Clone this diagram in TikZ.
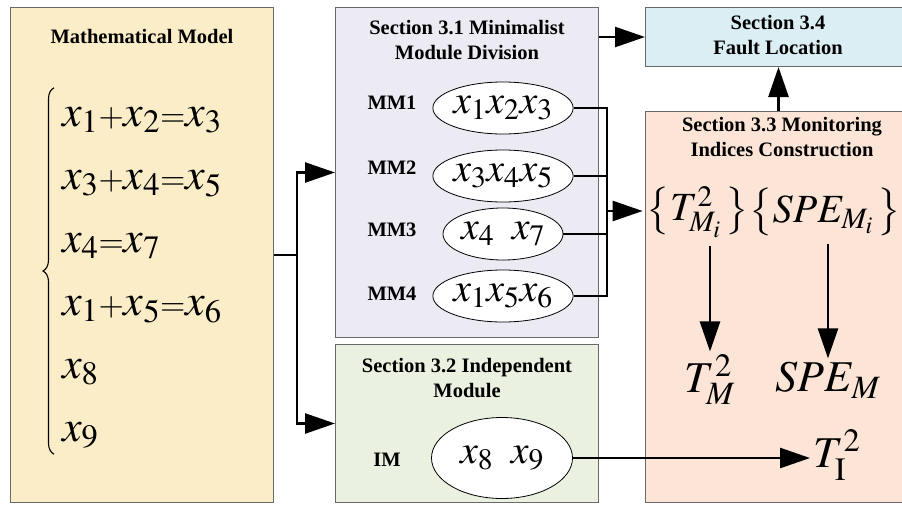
\documentclass[tikz,border=0pt]{standalone}
\usepackage{mathptmx}
\usepackage{fontspec}
\setmainfont{Liberation Serif}
\usetikzlibrary{arrows.meta}
\usetikzlibrary{shapes.geometric}
\usetikzlibrary{decorations.pathreplacing}

\definecolor{modelfill}{RGB}{252,237,201}
\definecolor{mmfill}{RGB}{236,234,243}
\definecolor{imfill}{RGB}{234,241,224}
\definecolor{faultfill}{RGB}{219,238,244}
\definecolor{monfill}{RGB}{252,229,214}
\definecolor{boxgray}{RGB}{105,105,105}

\newcommand{\pl}{{\scriptstyle+}}
\newcommand{\eq}{{\scriptstyle=}}

\begin{document}
\begin{tikzpicture}[x=1pt, y=-1pt,
    box/.style={draw=boxgray, line width=1pt, anchor=north west, inner sep=0pt},
    head/.style={font=\fontsize{20.5}{25}\selectfont\bfseries, align=center},
    tag/.style={font=\fontsize{20.5}{25}\selectfont\bfseries},
    oval/.style={ellipse, draw, fill=white, line width=0.8pt, minimum width=120,
      minimum height=52, inner sep=0pt, font=\fontsize{40}{40}\selectfont},
    big/.style={font=\fontsize{44}{63}\selectfont},
    set/.style={font=\fontsize{40}{40}\selectfont, inner sep=0pt},
    line/.style={line width=2.5pt},
    arr/.style={line width=2.5pt, -{Triangle[length=30pt, width=20pt]}}]
  \useasboundingbox (0,0) rectangle (902,506);

  % the model
  \node[box, fill=modelfill, minimum width=263, minimum height=495] (model) at (10,7) {};
  \node[head] (modelhead) at (142,36) {Mathematical Model};
  \node[big, anchor=west, inner sep=0pt] (eqs) at (62,271) {$\begin{array}{@{}l@{}}
      x_1\pl x_2\eq x_3\\
      x_3\pl x_4\eq x_5\\
      x_4\eq x_7\\
      x_1\pl x_5\eq x_6\\
      x_8\\
      x_9
    \end{array}$};
  \draw[line width=1.1pt, decorate, decoration={brace, amplitude=11pt}]
    ([xshift=-8pt, yshift=6pt]eqs.south west) -- ([xshift=-8pt, yshift=-6pt]eqs.north west);

  % section 3.1
  \node[box, fill=mmfill, minimum width=263, minimum height=330] (sec31) at (335,7) {};
  \node[head] (sec31head) at (467,40) {Section 3.1 Minimalist\\Module Division};
  \node[tag] (lab1) at (392,103) {MM1};
  \node[tag] (lab2) at (392,168) {MM2};
  \node[tag] (lab3) at (392,230) {MM3};
  \node[tag] (lab4) at (392,294) {MM4};
  \node[oval] (mm1) at (503,108) {$x_1x_2x_3$};
  \node[oval] (mm2) at (503,176) {$x_3x_4x_5$};
  \node[oval] (mm3) at (503,234) {$x_4\;\;x_7$};
  \node[oval] (mm4) at (503,296) {$x_1x_5x_6$};

  % section 3.2
  \node[box, fill=imfill, minimum width=263, minimum height=158] (sec32) at (335,344) {};
  \node[head] (sec32head) at (467,378) {Section 3.2 Independent\\Module};
  \node[tag] (imlab) at (387,460) {IM};
  \node[oval, minimum width=141, minimum height=81] (im) at (502,458) {$x_8\;\;x_9$};

  % section 3.4
  \node[box, fill=faultfill, minimum width=266, minimum height=59] (sec34) at (645,7) {};
  \node[head] (sec34head) at (778,35) {Section 3.4\\Fault Location};

  % section 3.3
  \node[box, fill=monfill, minimum width=266, minimum height=391] (sec33) at (645,111) {};
  \node[head] (sec33head) at (782,137) {Section 3.3 Monitoring\\Indices Construction};
  \node[set, anchor=east] (setT) at (749,212) {$\bigl\{T^2_{M_i}\,\bigr\}$};
  \node[set, anchor=west] (setS) at (749,212) {$\bigl\{SPE_{M_i}\,\bigr\}$};
  \node[big] (tmM) at (710,380) {$T^2_M$};
  \node[big] (speM) at (828,380) {$SPE_M$};
  \node[big] (tI) at (837,455) {$T^2_{\mathrm{I}}$};

  % connectors
  \path (model.east) ++(23,0) coordinate (fork);
  \draw[line] (model.east) -- (fork);
  \draw[arr] (fork) |- (sec31.west);
  \draw[arr] (fork) |- (sec32.west);
  \draw[arr] (sec31.east |- sec34.west) -- (sec34.west);
  \draw[arr] (sec33.north) -- (sec34.south);
  \coordinate (bus) at (607,211);
  \draw[line] (mm1.east) -| (bus);
  \draw[line] (mm2.east) -| (bus);
  \draw[line] (mm3.east) -| (bus);
  \draw[line] (mm4.east) -| (bus);
  \draw[arr] (bus) -- ([xshift=-4pt]bus -| setT.west);
  \draw[arr] ([yshift=-8pt]tmM.north |- setT.south) -- (tmM.north);
  \draw[arr] ([yshift=-8pt]speM.north |- setS.south) -- (speM.north);
  \draw[arr] (im.east) -- (im.east -| tI.west);
\end{tikzpicture}
\end{document}
